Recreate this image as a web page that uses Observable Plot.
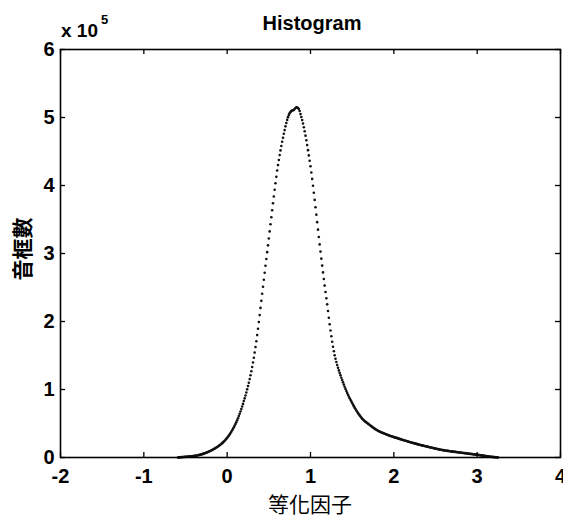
<!DOCTYPE html>
<html>
<head>
<meta charset="utf-8">
<script src="https://cdn.jsdelivr.net/npm/d3@7"></script>
<script src="https://cdn.jsdelivr.net/npm/@observablehq/plot@0.6"></script>
<style>
  html, body { margin: 0; padding: 0; background: #fff; }
  #chart { width: 563px; height: 517px; }
</style>
</head>
<body>
<div id="chart"></div>
<script>
// Histogram of equalization factor: bin start, bin width and counts (in units of 10^5 frames)
const binStart = -0.60;
const binWidth = 0.01;
const counts = [
  0.000,0.001,0.002,0.003,0.004,0.005,0.006,0.007,0.008,0.009,
  0.010,0.011,0.012,0.013,0.014,0.015,0.016,0.018,0.019,0.020,
  0.022,0.024,0.026,0.028,0.030,0.033,0.036,0.039,0.042,0.045,
  0.049,0.053,0.057,0.061,0.066,0.071,0.076,0.081,0.087,0.093,
  0.099,0.105,0.111,0.117,0.124,0.131,0.138,0.146,0.154,0.162,
  0.171,0.180,0.190,0.200,0.211,0.222,0.234,0.247,0.260,0.274,
  0.289,0.305,0.322,0.340,0.359,0.379,0.400,0.422,0.445,0.469,
  0.494,0.520,0.548,0.578,0.609,0.642,0.676,0.712,0.749,0.788,
  0.830,0.870,0.912,0.956,1.002,1.050,1.100,1.153,1.209,1.268,
  1.330,1.396,1.467,1.543,1.624,1.710,1.800,1.894,1.992,2.094,
  2.200,2.304,2.408,2.512,2.615,2.717,2.819,2.920,3.020,3.120,
  3.220,3.325,3.430,3.534,3.637,3.739,3.839,3.937,4.033,4.127,
  4.220,4.300,4.376,4.448,4.516,4.581,4.643,4.703,4.760,4.815,
  4.870,4.920,4.965,5.005,5.038,5.064,5.082,5.094,5.102,5.107,
  5.110,5.125,5.140,5.150,5.148,5.140,5.125,5.095,5.050,5.008,
  4.962,4.912,4.857,4.797,4.733,4.665,4.594,4.520,4.443,4.364,
  4.282,4.192,4.097,3.997,3.894,3.788,3.680,3.571,3.461,3.351,
  3.242,3.134,3.028,2.924,2.822,2.722,2.624,2.528,2.434,2.342,
  2.252,2.154,2.056,1.960,1.868,1.782,1.702,1.629,1.563,1.504,
  1.452,1.405,1.361,1.320,1.281,1.244,1.208,1.173,1.139,1.105,
  1.072,1.040,1.009,0.979,0.950,0.923,0.897,0.872,0.848,0.825,
  0.802,0.778,0.755,0.733,0.712,0.692,0.673,0.655,0.637,0.619,
  0.602,0.586,0.571,0.558,0.546,0.535,0.525,0.516,0.507,0.498,
  0.490,0.479,0.469,0.459,0.450,0.441,0.432,0.424,0.416,0.408,
  0.400,0.393,0.387,0.381,0.375,0.370,0.365,0.360,0.355,0.350,
  0.345,0.340,0.335,0.330,0.325,0.320,0.316,0.312,0.308,0.304,
  0.300,0.296,0.292,0.289,0.285,0.281,0.277,0.273,0.270,0.266,
  0.262,0.258,0.254,0.251,0.247,0.243,0.240,0.236,0.232,0.229,
  0.225,0.221,0.218,0.214,0.211,0.207,0.204,0.200,0.197,0.193,
  0.190,0.187,0.184,0.181,0.178,0.175,0.172,0.169,0.166,0.163,
  0.160,0.157,0.154,0.151,0.148,0.146,0.143,0.140,0.137,0.134,
  0.131,0.128,0.126,0.123,0.121,0.118,0.115,0.113,0.110,0.108,
  0.105,0.103,0.102,0.100,0.098,0.097,0.095,0.093,0.091,0.090,
  0.088,0.086,0.085,0.083,0.082,0.080,0.078,0.077,0.075,0.074,
  0.072,0.070,0.069,0.067,0.066,0.064,0.062,0.061,0.059,0.058,
  0.056,0.054,0.053,0.051,0.050,0.048,0.046,0.045,0.043,0.042,
  0.040,0.038,0.036,0.035,0.033,0.031,0.029,0.027,0.026,0.024,
  0.022,0.020,0.019,0.017,0.015,0.014,0.012,0.011,0.009,0.008,
  0.006,0.005,0.004,0.003,0.002,0.001
];
const xTicks = [-2, -1, 0, 1, 2, 3, 4];
const yTicks = [0, 1, 2, 3, 4, 5, 6];
const titleText = "Histogram";
const xLabel = "等化因子";
const yLabel = "音框數";
const yExponent = "5";

const data = counts
  .map((c, i) => ({x: +(binStart + i * binWidth).toFixed(2), y: c}))
  .filter(d => d.y > 0);

const W = 563, H = 517;
const mL = 60, mR = 3, mT = 49, mB = 60;
const innerW = W - mL - mR, innerH = H - mT - mB;
const tickLen = 5;
const numFont = {fontSize: 20, fontWeight: "bold"};

const chart = Plot.plot({
  width: W,
  height: H,
  marginLeft: mL,
  marginRight: mR,
  marginTop: mT,
  marginBottom: mB,
  style: {fontFamily: "'Liberation Sans', Arial, sans-serif", background: "#fff", color: "#000", overflow: "visible"},
  x: {domain: [-2, 4]},
  y: {domain: [0, 6]},
  marks: [
    Plot.dot(data, {x: "x", y: "y", r: 1.3, fill: "#111", stroke: "none"}),
    Plot.tickX(xTicks, {x: d => d, insetTop: innerH - tickLen, stroke: "#000", strokeWidth: 1.3}),
    Plot.tickX(xTicks, {x: d => d, insetBottom: innerH - tickLen, stroke: "#000", strokeWidth: 1.3}),
    Plot.tickY(yTicks, {y: d => d, insetRight: innerW - tickLen, stroke: "#000", strokeWidth: 1.3}),
    Plot.tickY(yTicks, {y: d => d, insetLeft: innerW - tickLen, stroke: "#000", strokeWidth: 1.3}),
    Plot.frame({stroke: "#000", strokeWidth: 1.6}),
    Plot.axisX(xTicks, {tickSize: 0, tickPadding: 11, tickFormat: d => String(d), label: null, fill: "#000", ...numFont}),
    Plot.axisY(yTicks, {tickSize: 0, tickPadding: 6, tickFormat: d => String(d), label: null, fill: "#000", ...numFont})
  ]
});

const svg = d3.select(chart);
svg.append("text")
  .attr("x", 312).attr("y", 30)
  .attr("text-anchor", "middle")
  .style("font", "bold 20px 'Liberation Sans', Arial, sans-serif")
  .attr("fill", "#000")
  .text(titleText);
svg.append("text")
  .attr("x", 61).attr("y", 37)
  .attr("text-anchor", "start")
  .style("font", "bold 19px 'Liberation Sans', Arial, sans-serif")
  .attr("fill", "#000")
  .text("x 10");
svg.append("text")
  .attr("x", 101).attr("y", 24)
  .attr("text-anchor", "start")
  .style("font", "bold 13px 'Liberation Sans', Arial, sans-serif")
  .attr("fill", "#000")
  .text(yExponent);
svg.append("text")
  .attr("transform", "translate(21,249) rotate(-90)")
  .attr("text-anchor", "middle")
  .attr("dominant-baseline", "central")
  .style("font", "bold 21px 'Noto Sans CJK TC', 'Noto Sans CJK SC', sans-serif")
  .attr("fill", "#000")
  .text(yLabel);
svg.append("text")
  .attr("x", 310).attr("y", 503)
  .attr("text-anchor", "middle")
  .attr("dominant-baseline", "central")
  .style("font", "21px 'Noto Sans CJK TC', 'Noto Sans CJK SC', sans-serif")
  .attr("fill", "#000")
  .text(xLabel);

document.getElementById("chart").appendChild(chart);
</script>
</body>
</html>
